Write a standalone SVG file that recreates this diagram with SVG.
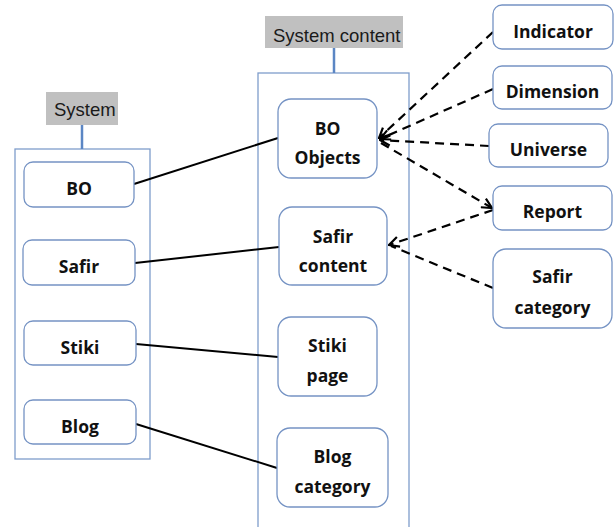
<svg xmlns="http://www.w3.org/2000/svg" width="616" height="527" viewBox="0 0 616 527">
<style>
.cont{fill:#fff;stroke:#7f9dcb;stroke-width:1.3}
.lab{fill:#c0c0c0}
.labt{font-family:"Liberation Sans",Arial,sans-serif;font-size:18.5px;fill:#1a1a1a}
.node rect{fill:#fff;stroke:#7593c4;stroke-width:1.3}
.node text{font-family:"Open Sans","Noto Sans",sans-serif;font-weight:bold;font-size:17.5px;fill:#111;text-anchor:middle}
.solid{stroke:#000;stroke-width:2;fill:none}
.dash{stroke:#000;stroke-width:2.2;fill:none;stroke-dasharray:9,6}
.stem{stroke:#5b86c4;stroke-width:2.5}
</style>
<defs>
<marker id="ah2" viewBox="0 0 12 12" refX="11" refY="6" markerWidth="12" markerHeight="12" orient="auto" markerUnits="userSpaceOnUse">
<path d="M1,1 L11,6 L1,11" fill="none" stroke="#000" stroke-width="2.2"/>
</marker>
</defs>
<g id="system-container">
<rect class="cont" x="15" y="149" width="135" height="310"/>
<line class="stem" x1="82" y1="125" x2="82" y2="149"/>
<rect class="lab" x="46" y="92" width="72" height="33"/>
<text class="labt" x="54" y="116">System</text>
</g>
<g id="content-container">
<rect class="cont" x="258" y="73" width="151" height="460"/>
<line class="stem" x1="334" y1="48" x2="334" y2="73"/>
<rect class="lab" x="265" y="16" width="138" height="32"/>
<text class="labt" x="273" y="42">System content</text>
</g>
<g id="connectors">
<line class="solid" x1="134" y1="184" x2="278" y2="138"/>
<line class="solid" x1="135" y1="263" x2="279" y2="247"/>
<line class="solid" x1="136" y1="344" x2="278" y2="357"/>
<line class="solid" x1="136" y1="424" x2="277" y2="468"/>
<line class="dash" x1="493" y1="32" x2="379" y2="138" marker-end="url(#ah2)"/>
<line class="dash" x1="493" y1="89" x2="380" y2="139" marker-end="url(#ah2)"/>
<line class="dash" x1="489" y1="146" x2="380" y2="140" marker-end="url(#ah2)"/>
<line class="dash" x1="381" y1="143" x2="492" y2="208" marker-end="url(#ah2)"/>
<line class="dash" x1="493" y1="210" x2="389" y2="245" marker-end="url(#ah2)"/>
<line class="dash" x1="493" y1="288" x2="391" y2="246"/>
</g>
<g id="n-bo" class="node"><rect x="24" y="162" width="110" height="45" rx="9"/><text x="79" y="195">BO</text></g>
<g id="n-safir" class="node"><rect x="23" y="240" width="112" height="45" rx="9"/><text x="79" y="273">Safir</text></g>
<g id="n-stiki" class="node"><rect x="24" y="321" width="112" height="44" rx="9"/><text x="80" y="353.5">Stiki</text></g>
<g id="n-blog" class="node"><rect x="24" y="400" width="112" height="44" rx="9"/><text x="80" y="432.5">Blog</text></g>
<g id="n-boobjects" class="node"><rect x="278" y="99" width="99" height="79" rx="13"/><text x="327.5" y="135">BO</text><text x="327.5" y="164">Objects</text></g>
<g id="n-safircontent" class="node"><rect x="279" y="207" width="108" height="78" rx="13"/><text x="333" y="243">Safir</text><text x="333" y="272">content</text></g>
<g id="n-stikipage" class="node"><rect x="278" y="317" width="99" height="79" rx="13"/><text x="327.5" y="352">Stiki</text><text x="327.5" y="382">page</text></g>
<g id="n-blogcategory" class="node"><rect x="277" y="428" width="111" height="79" rx="13"/><text x="332.5" y="463">Blog</text><text x="332.5" y="493">category</text></g>
<g id="n-indicator" class="node"><rect x="493" y="5" width="120" height="44" rx="9"/><text x="553" y="38">Indicator</text></g>
<g id="n-dimension" class="node"><rect x="493" y="66" width="119" height="43" rx="9"/><text x="552.5" y="98">Dimension</text></g>
<g id="n-universe" class="node"><rect x="489" y="124" width="119" height="43" rx="9"/><text x="548.5" y="156">Universe</text></g>
<g id="n-report" class="node"><rect x="493" y="186" width="119" height="44" rx="9"/><text x="552.5" y="218">Report</text></g>
<g id="n-safircategory" class="node"><rect x="493" y="249" width="119" height="79" rx="13"/><text x="552.5" y="283">Safir</text><text x="552.5" y="314">category</text></g>
</svg>
